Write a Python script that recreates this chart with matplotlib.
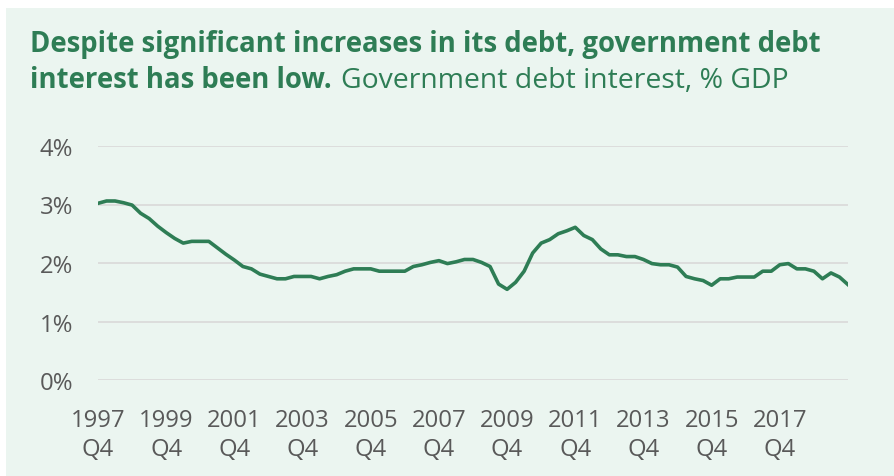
import numpy as np
import matplotlib.pyplot as plt
from matplotlib.patches import Rectangle

# Government debt interest, % GDP, quarterly from 1997 Q4
start_year = 1997
interest = [
    3.02, 3.06, 3.06, 3.03, 2.99, 2.85, 2.76, 2.63, 2.52, 2.42,
    2.34, 2.37, 2.37, 2.37, 2.26, 2.15, 2.05, 1.94, 1.90, 1.81,
    1.77, 1.73, 1.73, 1.77, 1.77, 1.77, 1.73, 1.77, 1.80, 1.86,
    1.90, 1.90, 1.90, 1.86, 1.86, 1.86, 1.86, 1.94, 1.97, 2.01,
    2.04, 1.99, 2.02, 2.06, 2.06, 2.01, 1.94, 1.64, 1.55, 1.67,
    1.86, 2.17, 2.34, 2.40, 2.50, 2.55, 2.61, 2.47, 2.40, 2.24,
    2.14, 2.14, 2.11, 2.11, 2.06, 1.99, 1.97, 1.97, 1.93, 1.77,
    1.73, 1.70, 1.62, 1.73, 1.73, 1.76, 1.76, 1.76, 1.86, 1.86,
    1.97, 1.99, 1.90, 1.90, 1.86, 1.73, 1.83, 1.76, 1.63,
]
tick_years = [1997, 1999, 2001, 2003, 2005, 2007, 2009, 2011, 2013, 2015, 2017]
y_ticks = [0, 1, 2, 3, 4]

green = '#2e7d55'
panel = '#ebf5f0'
grey = '#595959'
plt.rcParams['font.family'] = ['Open Sans', 'DejaVu Sans']

fig = plt.figure(figsize=(8.95, 4.77), dpi=100)
fig.patch.set_facecolor('white')
fig.patches.append(Rectangle((6 / 895, 0), 1, 1 - 9 / 477,
                             transform=fig.transFigure, facecolor=panel,
                             edgecolor='none', zorder=-10))

ax = fig.add_axes([98 / 895, 1 - 381 / 477, 750 / 895, 234 / 477])
ax.set_facecolor('none')
x = np.arange(len(interest))
ax.plot(x, interest, color=green, lw=2.6, solid_joinstyle='round', zorder=3)

ax.set_xlim(0, len(interest) - 1)
ax.set_ylim(0, 4)
ax.set_yticks(y_ticks)
ax.set_yticklabels(['%d%%' % v for v in y_ticks])
ax.set_xticks([(yr - start_year) * 4 for yr in tick_years])
ax.set_xticklabels(['%d\nQ4' % yr for yr in tick_years], linespacing=1.3)
ax.grid(axis='y', color='#d9d9d9', lw=1.2)
ax.set_axisbelow(True)
for s in ax.spines.values():
  s.set_visible(False)
ax.tick_params(length=0, labelsize=17.2, labelcolor=grey)
ax.tick_params(axis='y', pad=18)
ax.tick_params(axis='x', pad=20)

# Title, bold lead-in followed by regular subtitle
fig.text(30 / 895, 1 - 52 / 477,
         'Despite significant increases in its debt, government debt',
         fontsize=19.8, fontweight='bold', color=green)
t2 = fig.text(30 / 895, 1 - 88 / 477, 'interest has been low.',
              fontsize=19.8, fontweight='bold', color=green)
fig.canvas.draw()
bb = t2.get_window_extent()
fig.text(bb.x1 / (fig.dpi * 8.95) + 9 / 895, 1 - 88 / 477,
         'Government debt interest, % GDP',
         fontsize=20.4, color=green)

fig.savefig('out.png', dpi=100)
